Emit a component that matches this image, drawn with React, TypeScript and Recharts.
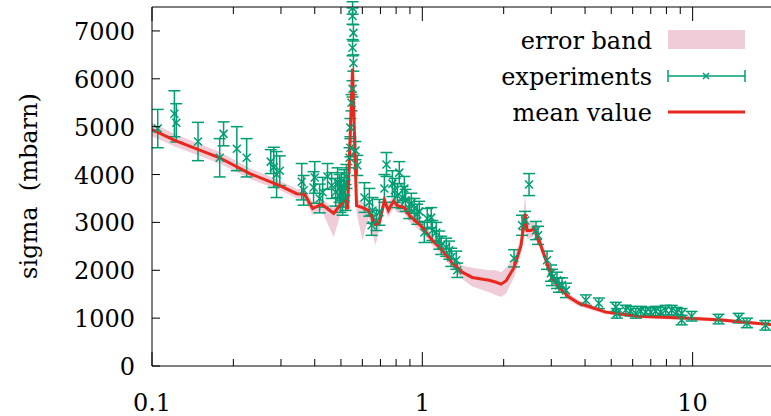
import React from 'react';
import { ComposedChart, XAxis, YAxis, Area, Line, Scatter, ErrorBar, Legend, Label } from 'recharts';

const GREEN = '#009e73';
const RED = '#e8281c';
const PINK = '#dc8fa6';
const FONT = '"DejaVu Serif", serif';

// axis ticks
const xMajorTicks = [0.1, 1, 10];
const xMajorLabels = ['0.1', '1', '10'];
const xMinorTicks = [0.2, 0.3, 0.4, 0.5, 0.6, 0.7, 0.8, 0.9, 2, 3, 4, 5, 6, 7, 8, 9];
const yTicks = [0, 1000, 2000, 3000, 4000, 5000, 6000, 7000];

// mean value curve
const meanX = [0.1, 0.122, 0.178, 0.23, 0.297, 0.343, 0.367, 0.393, 0.424, 0.47, 0.503, 0.524, 0.529, 0.552, 0.571, 0.601, 0.632, 0.671, 0.694, 0.724, 0.749, 0.782, 0.809, 0.858, 0.895, 0.919, 1.0, 1.089, 1.185, 1.291, 1.405, 1.53, 1.767, 1.876, 1.957, 2.042, 2.185, 2.319, 2.399, 2.44, 2.524, 2.59, 2.702, 2.869, 3.018, 3.203, 3.487, 3.797, 4.775, 6.321, 9.666, 12.79, 20];
const meanY = [4940, 4710, 4350, 4020, 3770, 3600, 3590, 3290, 3380, 3190, 3400, 3520, 3270, 6210, 3350, 3310, 3250, 2960, 3000, 3460, 3250, 3440, 3350, 3310, 3150, 3090, 2900, 2625, 2420, 2150, 1960, 1850, 1790, 1750, 1710, 1780, 2060, 2520, 3170, 2830, 2830, 2870, 2620, 2210, 1850, 1650, 1440, 1310, 1125, 1040, 1000, 960, 860];

// error band around the mean
const bandLow = [4800, 4580, 4230, 3910, 3670, 3500, 3480, 3150, 3260, 2690, 3250, 3380, 3130, 5900, 3200, 2620, 3100, 2520, 2850, 3300, 3100, 3300, 3200, 3180, 3020, 2970, 2780, 2520, 2310, 2040, 1820, 1660, 1540, 1480, 1440, 1520, 1850, 2350, 2850, 2650, 2680, 2720, 2490, 2100, 1760, 1570, 1370, 1250, 1080, 1000, 960, 920, 830];
const bandHigh = [5080, 4840, 4470, 4130, 3870, 3700, 3700, 3420, 3500, 3300, 3550, 3660, 3400, 6500, 3500, 3420, 3400, 3100, 3150, 3600, 3400, 3580, 3500, 3440, 3280, 3200, 3020, 2730, 2530, 2260, 2100, 2050, 2000, 2000, 1960, 2050, 2270, 2700, 3550, 3050, 3000, 3020, 2760, 2330, 1950, 1730, 1510, 1370, 1170, 1080, 1040, 1000, 890];

// experiments
const expX = [0.105, 0.121, 0.123, 0.148, 0.178, 0.184, 0.206, 0.224, 0.275, 0.282, 0.289, 0.297, 0.358, 0.364, 0.4, 0.396, 0.417, 0.428, 0.446, 0.462, 0.478, 0.486, 0.494, 0.498, 0.502, 0.507, 0.511, 0.515, 0.52, 0.524, 0.538, 0.542, 0.542, 0.547, 0.552, 0.556, 0.552, 0.556, 0.552, 0.552, 0.566, 0.575, 0.611, 0.637, 0.654, 0.649, 0.677, 0.694, 0.724, 0.737, 0.775, 0.791, 0.809, 0.844, 0.822, 0.858, 0.867, 0.895, 0.911, 0.934, 0.958, 0.975, 1.017, 1.043, 1.079, 1.089, 1.126, 1.155, 1.175, 1.226, 1.258, 1.279, 1.335, 1.347, 2.185, 2.482, 2.339, 2.399, 2.634, 2.68, 2.893, 2.992, 3.018, 3.149, 3.203, 3.286, 3.4, 4.029, 4.499, 5.199, 5.243, 5.659, 5.89, 6.163, 6.43, 6.709, 7.0, 7.303, 7.62, 7.951, 8.366, 8.73, 9.107, 9.107, 9.915, 12.47, 14.79, 15.88, 18.58];
const expY = [4960, 5270, 5080, 4690, 4350, 4850, 4540, 4350, 4270, 4150, 4000, 4080, 3850, 3670, 3940, 3730, 3500, 3630, 3960, 3770, 3630, 3830, 3710, 3540, 3750, 3460, 3630, 3830, 3520, 3960, 4350, 4560, 4980, 5500, 5790, 6330, 6650, 6960, 7310, 7480, 4500, 4190, 3520, 3420, 3250, 2940, 3040, 3210, 3710, 4210, 3810, 3670, 3560, 3520, 4040, 3710, 3460, 3290, 3400, 3290, 3170, 3230, 2790, 3080, 3100, 2830, 2790, 2630, 2520, 2480, 2420, 2270, 2210, 2000, 2250, 3790, 2940, 3040, 2830, 2730, 2210, 1940, 1850, 1790, 1690, 1690, 1580, 1375, 1310, 1230, 1100, 1170, 1146, 1100, 1146, 1125, 1125, 1146, 1125, 1167, 1167, 1125, 1100, 960, 1040, 980, 1000, 900, 850];
const expErr = [400, 480, 400, 400, 400, 250, 460, 400, 250, 420, 480, 310, 380, 310, 330, 330, 300, 310, 270, 270, 290, 310, 290, 330, 290, 310, 310, 270, 270, 250, 210, 190, 190, 170, 170, 170, 170, 170, 170, 130, 190, 210, 310, 290, 270, 210, 210, 270, 290, 250, 270, 250, 250, 230, 230, 250, 230, 210, 210, 210, 210, 210, 210, 210, 210, 210, 210, 190, 190, 190, 190, 190, 190, 150, 180, 230, 210, 190, 190, 190, 190, 170, 170, 170, 150, 150, 150, 110, 110, 100, 100, 100, 100, 100, 100, 100, 100, 100, 100, 100, 100, 100, 100, 100, 100, 100, 100, 100, 100];

const meanData = meanX.map((x, i) => ({ x, y: meanY[i] }));
const bandData = meanX.map((x, i) => ({ x, band: [bandLow[i], bandHigh[i]] }));
const expData = expX.map((x, i) => ({ x, y: expY[i], err: expErr[i] }));

const isMajor = (v: number) => xMajorTicks.indexOf(v) >= 0;

const BottomTick = (props: any) => {
  const { x, y, payload } = props;
  const i = xMajorTicks.indexOf(payload.value);
  return (
    <g>
      <line x1={x} x2={x} y1={y} y2={y - (i >= 0 ? 14 : 7)} stroke="#000" strokeWidth={1} />
      {i >= 0 && (
        <text x={x} y={y + 45} textAnchor="middle" fontFamily={FONT} fontSize={24} fill="#000">
          {xMajorLabels[i]}
        </text>
      )}
    </g>
  );
};

const TopTick = (props: any) => {
  const { x, y, payload } = props;
  return <line x1={x} x2={x} y1={y} y2={y + (isMajor(payload.value) ? 14 : 7)} stroke="#000" strokeWidth={1} />;
};

const LeftTick = (props: any) => {
  const { x, y, payload } = props;
  return (
    <g>
      <line x1={x} x2={x + 8} y1={y} y2={y} stroke="#000" strokeWidth={1} />
      <text x={x - 17} y={y + 9} textAnchor="end" fontFamily={FONT} fontSize={24} fill="#000">
        {payload.value}
      </text>
    </g>
  );
};

const XMark = (props: any) => {
  const { cx, cy } = props;
  const s = 4;
  return (
    <path
      d={`M${cx - s},${cy - s}L${cx + s},${cy + s}M${cx - s},${cy + s}L${cx + s},${cy - s}`}
      stroke={GREEN}
      strokeWidth={1.5}
      fill="none"
    />
  );
};

const LegendBox = () => {
  const rows = ['error band', 'experiments', 'mean value'];
  return (
    <svg width={340} height={110}>
      {rows.map((r, i) => (
        <text key={r} x={232} y={29 + i * 36} textAnchor="end" fontFamily={FONT} fontSize={24} fill="#000">
          {r}
        </text>
      ))}
      <rect x={248} y={10} width={77} height={19} fill={PINK} fillOpacity={0.45} />
      <line x1={248} x2={325} y1={56} y2={56} stroke={GREEN} strokeWidth={1.5} />
      <line x1={248} x2={248} y1={50} y2={62} stroke={GREEN} strokeWidth={1.5} />
      <line x1={325} x2={325} y1={50} y2={62} stroke={GREEN} strokeWidth={1.5} />
      <path d="M283,53L289,59M283,59L289,53" stroke={GREEN} strokeWidth={1.5} />
      <line x1={248} x2={325} y1={92} y2={92} stroke={RED} strokeWidth={3} />
    </svg>
  );
};

export default function App() {
  return (
    <div style={{ position: 'absolute', left: 0, top: 0, width: 771, height: 416, overflow: 'hidden', background: '#fff' }}>
      <ComposedChart width={774} height={416} margin={{ top: 6, right: 0, bottom: 0, left: 0 }}>
        <XAxis
          dataKey="x"
          type="number"
          scale="log"
          domain={[0.1, 20]}
          allowDataOverflow
          ticks={[...xMajorTicks, ...xMinorTicks]}
          tick={<BottomTick />}
          tickLine={false}
          tickSize={0}
          tickMargin={0}
          height={50}
          axisLine={{ stroke: '#000', strokeWidth: 1 }}
          interval={0}
        />
        <XAxis
          xAxisId="top"
          orientation="top"
          dataKey="x"
          type="number"
          scale="log"
          domain={[0.1, 20]}
          allowDataOverflow
          ticks={[...xMajorTicks, ...xMinorTicks]}
          tick={<TopTick />}
          tickLine={false}
          tickSize={0}
          tickMargin={0}
          height={1}
          axisLine={{ stroke: '#000', strokeWidth: 1 }}
          interval={0}
        />
        <YAxis
          type="number"
          domain={[0, 7500]}
          allowDataOverflow
          ticks={yTicks}
          tick={<LeftTick />}
          tickLine={false}
          tickSize={0}
          tickMargin={0}
          width={152}
          axisLine={{ stroke: '#000', strokeWidth: 1 }}
          interval={0}
        >
          <Label
            content={() => (
              <text
                x={29}
                y={186}
                transform="rotate(-90 29 186)"
                textAnchor="middle"
                dominantBaseline="central"
                fontFamily={FONT}
                fontSize={24}
                fill="#000"
                style={{ whiteSpace: 'pre' }}
              >
                {'sigma  (mbarn)'}
              </text>
            )}
          />
        </YAxis>
        <Legend
          layout="vertical"
          align="center"
          verticalAlign="middle"
          wrapperStyle={{ left: 420, top: 20, width: 340, height: 110 }}
          content={<LegendBox />}
        />
        <Area
          xAxisId="top"
          data={bandData}
          dataKey="band"
          type="linear"
          stroke="none"
          fill={PINK}
          fillOpacity={0.45}
          isAnimationActive={false}
          activeDot={false}
        />
        <Scatter data={expData} dataKey="y" shape={<XMark />} isAnimationActive={false}>
          <ErrorBar dataKey="err" direction="y" width={6} stroke={GREEN} strokeWidth={1.5} isAnimationActive={false} />
        </Scatter>
        <Line
          data={meanData}
          dataKey="y"
          type="linear"
          stroke={RED}
          strokeWidth={3}
          dot={false}
          activeDot={false}
          isAnimationActive={false}
        />
      </ComposedChart>
    </div>
  );
}
